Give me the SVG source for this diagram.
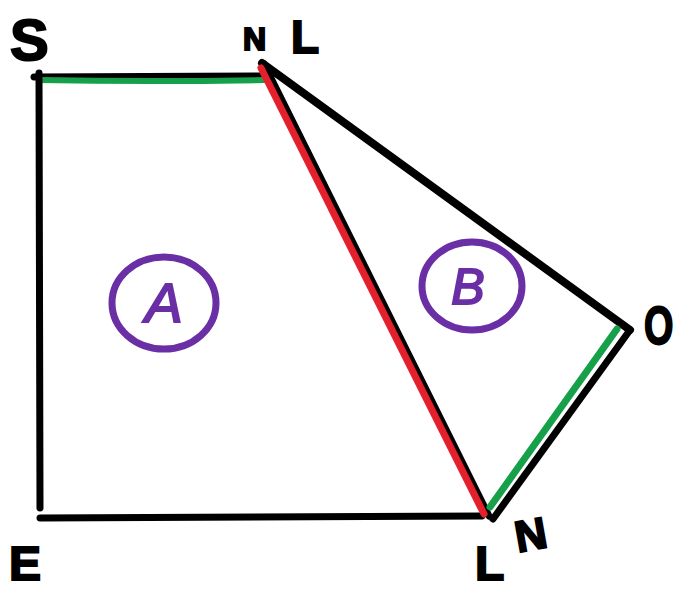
<svg xmlns="http://www.w3.org/2000/svg" width="674" height="590" viewBox="0 0 674 590">
<style>
.blk{fill:none;stroke:#000;stroke-width:7;stroke-linecap:round;stroke-linejoin:round}
.grn{fill:none;stroke:#17a04a;stroke-width:6;stroke-linecap:round}
.red{fill:none;stroke:#e4202c;stroke-width:7;stroke-linecap:round}
.lbl{font-family:"Liberation Sans",Arial,sans-serif;font-weight:bold;fill:#000;stroke:#000;stroke-width:2}
.circ{fill:none;stroke:#6a2fa5;stroke-width:7}
.ltr{font-family:"Liberation Sans",Arial,sans-serif;font-style:italic;fill:#6a2fa5;stroke:#6a2fa5;stroke-width:2;text-anchor:middle}
</style>
<rect width="674" height="590" fill="#fff"/>
<g id="connectors">
<path class="blk" d="M34 77 L262 76"/>
<path class="grn" d="M40 80 Q150 82 264 80"/>
<path class="blk" d="M39 73 L40 508"/>
<path class="blk" d="M40 518 L482 516"/>
<path class="blk" d="M262 63 L630 330" style="stroke-width:8"/>
<path class="blk" d="M264 64 L489 516"/>
<path class="red" d="M261 68 L484 514"/>
<path class="blk" d="M630 330 L493 519"/>
<path class="grn" d="M617 329 L490 507" style="stroke-width:7"/>
</g>
<g id="node-S"><text class="lbl" x="10" y="60" font-size="58">S</text></g>
<g id="node-NL"><text class="lbl" x="243" y="50" font-size="32">N</text><text class="lbl" x="291" y="53" font-size="46">L</text></g>
<g id="node-O"><text class="lbl" x="0" y="0" font-size="54" transform="translate(644 344) scale(0.7 1)">O</text></g>
<g id="node-E"><text class="lbl" x="9" y="580" font-size="48">E</text></g>
<g id="node-L"><text class="lbl" x="475" y="580" font-size="48">L</text></g>
<g id="node-N"><text class="lbl" x="515" y="550" font-size="44" transform="rotate(-10 530 535)">N</text></g>
<g id="node-A"><ellipse class="circ" cx="164" cy="303" rx="52" ry="46"/><text class="ltr" x="164" y="322" font-size="56">A</text></g>
<g id="node-B"><ellipse class="circ" cx="472" cy="286" rx="50" ry="44"/><text class="ltr" x="468" y="304" font-size="50">B</text></g>
</svg>
